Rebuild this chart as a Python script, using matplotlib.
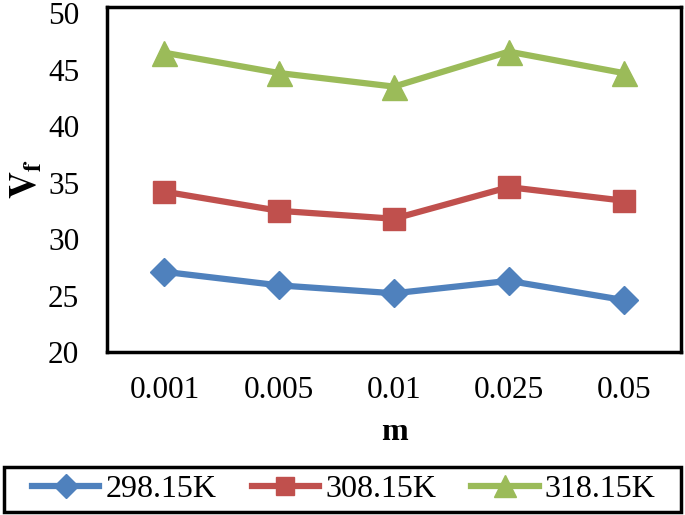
import numpy as np
import matplotlib
matplotlib.use("Agg")
import matplotlib.pyplot as plt
from matplotlib.patches import Rectangle

plt.rcParams['font.family'] = ['Liberation Serif', 'DejaVu Serif']
plt.rcParams['mathtext.fontset'] = 'stix'

# data
m_labels = ['0.001', '0.005', '0.01', '0.025', '0.05']
vf_298 = [27.1, 25.9, 25.2, 26.3, 24.6]
vf_308 = [34.2, 32.5, 31.8, 34.6, 33.4]
vf_318 = [46.5, 44.7, 43.5, 46.6, 44.7]
series_names = ['298.15K', '308.15K', '318.15K']

fig = plt.figure(figsize=(6.85, 5.15), dpi=100)
ax = fig.add_axes([107 / 685, 1 - 352 / 515, (681 - 107) / 685, (352 - 7) / 515])

x = np.arange(len(m_labels))
ax.plot(x, vf_298, color='#4F81BD', lw=4.5, marker='D', ms=14, label=series_names[0])
ax.plot(x, vf_308, color='#C0504D', lw=4.5, marker='s', ms=16, label=series_names[1])
ax.plot(x, vf_318, color='#9BBB59', lw=4.5, marker='^', ms=18, label=series_names[2])

ax.set_xlim(-0.5, len(m_labels) - 0.5)
ax.set_ylim(20, 50.55)
ax.set_yticks(np.arange(20, 51, 5))
ax.set_xticks(x)
ax.set_xticklabels(m_labels)
ax.tick_params(length=0, labelsize=22.5)
ax.tick_params(axis='y', pad=20)
ax.tick_params(axis='x', pad=17)
for s in ax.spines.values():
    s.set_linewidth(2.5)
    s.set_color('black')

ax.set_xlabel('m', fontsize=23, fontweight='bold', labelpad=10)
ax.set_ylabel(r'$\mathbf{V}_{\mathbf{f}}$', fontsize=27, labelpad=2)

# legend box across the bottom
fig.patches.append(Rectangle((4 / 685, 3 / 515), 677 / 685, 45 / 515, transform=fig.transFigure,
                             fill=False, edgecolor='black', linewidth=2.5))
leg = fig.legend(loc='center', bbox_to_anchor=(344 / 685, 25.5 / 515), ncol=3, fontsize=23,
                 frameon=False, handlelength=2.1, columnspacing=1.1, handletextpad=0.2,
                 markerscale=0.85)

fig.savefig('out.png', dpi=100)
